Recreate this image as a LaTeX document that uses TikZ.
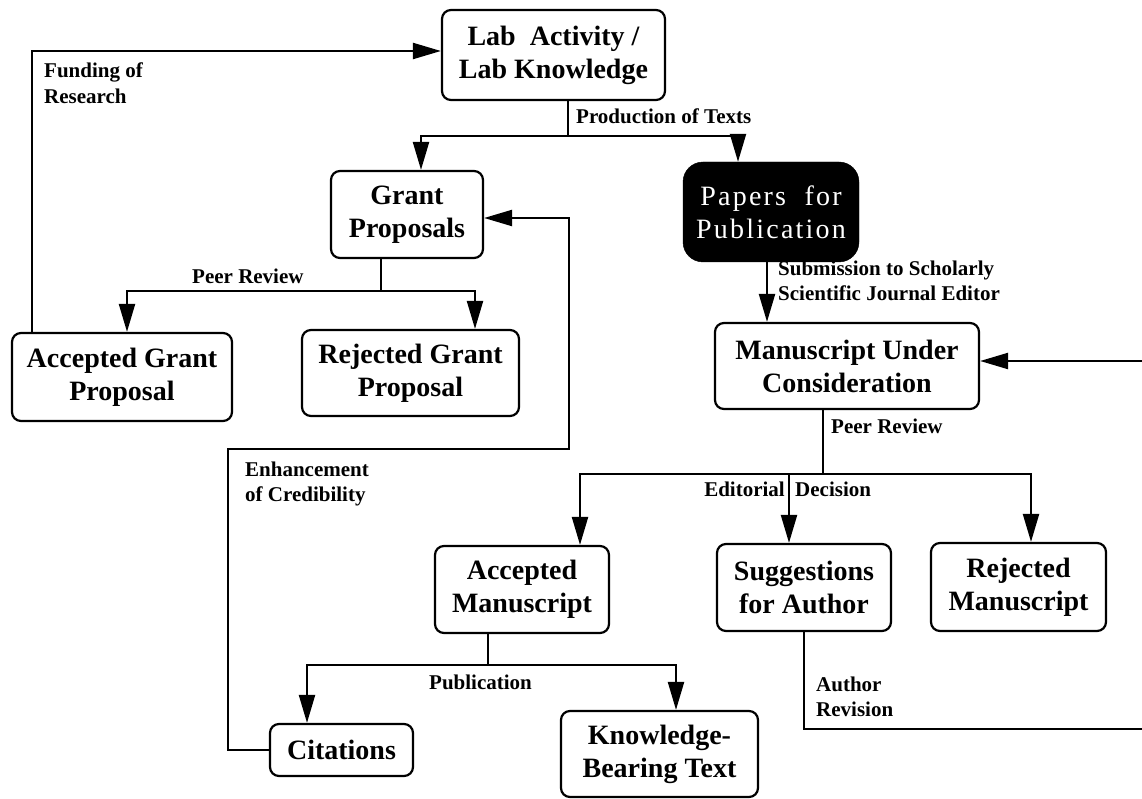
\documentclass[tikz,border=0pt]{standalone}
\usepackage{fontspec}
\setmainfont{Liberation Serif}
\usepackage{tikz}
\usetikzlibrary{arrows.meta}
\usetikzlibrary{positioning}
\tikzset{
  flow_box/.style = {draw=black, line width=2.2pt, rounded corners=9pt,
    align=center, inner sep=0pt, font=\fontsize{28}{33}\selectfont\bfseries},% white box
  flow_blk/.style = {draw=black, fill=black, text=white, rounded corners=20pt,
    align=center, inner sep=0pt,
    font=\fontsize{28}{33}\selectfont\addfontfeatures{LetterSpace=8}},% black box
  flow_lbl/.style = {inner sep=0pt, align=left,
    font=\fontsize{21}{25.5}\selectfont\bfseries},% edge label
  flow_line/.style = {line width=2.2pt},
  flow_arr/.style = {flow_line, -{Triangle[length=28pt,width=16pt]}}
}

\begin{document}
\begin{tikzpicture}[x=1pt,y=-1pt]
\useasboundingbox (0,0) rectangle (1142,799);

% boxes
\node [flow_box, minimum width=223pt, minimum height=90pt] (lab) at (553.5,55) {Lab\ \ Activity /\\Lab Knowledge};
\node [flow_box, minimum width=152pt, minimum height=87pt] (grant) at (407,214.5) {Grant\\Proposals};
\node [flow_blk, minimum width=176pt, minimum height=100pt] (papers) at (771,212) {Papers\ \ for\\Publication};
\node [flow_box, minimum width=220pt, minimum height=88pt] (accg) at (122,377) {Accepted Grant\\Proposal};
\node [flow_box, minimum width=217pt, minimum height=86pt] (rejg) at (410.5,373) {Rejected Grant\\Proposal};
\node [flow_box, minimum width=264pt, minimum height=86pt] (mus) at (847,366) {Manuscript Under\\Consideration};
\node [flow_box, minimum width=174pt, minimum height=87pt] (accm) at (522,589.5) {Accepted\\Manuscript};
\node [flow_box, minimum width=174pt, minimum height=87pt] (sugg) at (804,587.5) {Suggestions\\for Author};
\node [flow_box, minimum width=175pt, minimum height=88pt] (rejm) at (1018.5,587) {Rejected\\Manuscript};
\node [flow_box, minimum width=143pt, minimum height=52pt] (cit) at (341.5,750) {Citations};
\node [flow_box, minimum width=197pt, minimum height=86pt] (kbt) at (659.5,754) {Knowledge-\\Bearing Text};

% bends
\coordinate (c_fund) at (32,51);
\coordinate (c_prod) at (568,136);
\coordinate (c_gpr) at (381,291);
\coordinate (c_enh1) at (228,449);
\coordinate (c_enh2) at (569,449);
\coordinate (c_mpr) at (823,474);
\coordinate (c_pub) at (488,665);
\coordinate (c_rev) at (1150,729);

% connectors
\draw [flow_arr] ([xshift=-90pt]accg.north) -- (c_fund) -- (c_fund -| lab.west);
\draw [flow_line] (lab.south -| c_prod) -- (c_prod);
\draw [flow_arr] (c_prod) -| ([xshift=14pt]grant.north);
\draw [flow_arr] (c_prod) -| ([xshift=-33pt]papers.north);
\draw [flow_line] (grant.south -| c_gpr) -- (c_gpr);
\draw [flow_arr] (c_gpr) -| ([xshift=5pt]accg.north);
\draw [flow_arr] (c_gpr) -| ([xshift=64.5pt]rejg.north);
\draw [flow_arr] (cit.west) -| (c_enh1) -- (c_enh2) |- ([yshift=-3.5pt]grant.east);
\draw [flow_arr] ([xshift=-4pt]papers.south) -- ([xshift=-4pt]papers.south |- mus.north);
\draw [flow_line] (mus.south -| c_mpr) -- (c_mpr);
\draw [flow_arr] (c_mpr) -| ([xshift=58pt]accm.north);
\draw [flow_arr] (c_mpr) -| ([xshift=-15pt]sugg.north);
\draw [flow_arr] (c_mpr) -| ([xshift=12.5pt]rejm.north);
\draw [flow_line] (accm.south -| c_pub) -- (c_pub);
\draw [flow_arr] (c_pub) -| ([xshift=-34.5pt]cit.north);
\draw [flow_arr] (c_pub) -| ([xshift=16.5pt]kbt.north);
\draw [flow_arr] (sugg.south) |- (c_rev) |- ([yshift=5pt]mus.east);

% labels
\node [flow_lbl, anchor=west] (l_fund) at (44,83) {Funding of\\Research};
\node [flow_lbl, anchor=west] (l_prod) at (576,116) {Production of Texts};
\node [flow_lbl, anchor=west] (l_gpr) at (192,276) {Peer Review};
\node [flow_lbl, anchor=west] (l_sub) at (778,281) {Submission to Scholarly\\Scientific Journal Editor};
\node [flow_lbl, anchor=west] (l_enh) at (245,484) {Enhancement\\of Credibility};
\node [flow_lbl, anchor=west] (l_mpr) at (831,426) {Peer Review};
\node [flow_lbl, anchor=east] (l_edi) at (785,489) {Editorial};
\node [flow_lbl, anchor=west] (l_dec) at (795,489) {Decision};
\node [flow_lbl, anchor=west] (l_pub) at (429,682) {Publication};
\node [flow_lbl, anchor=west] (l_rev) at (816,697) {Author\\Revision};
\end{tikzpicture}
\end{document}
